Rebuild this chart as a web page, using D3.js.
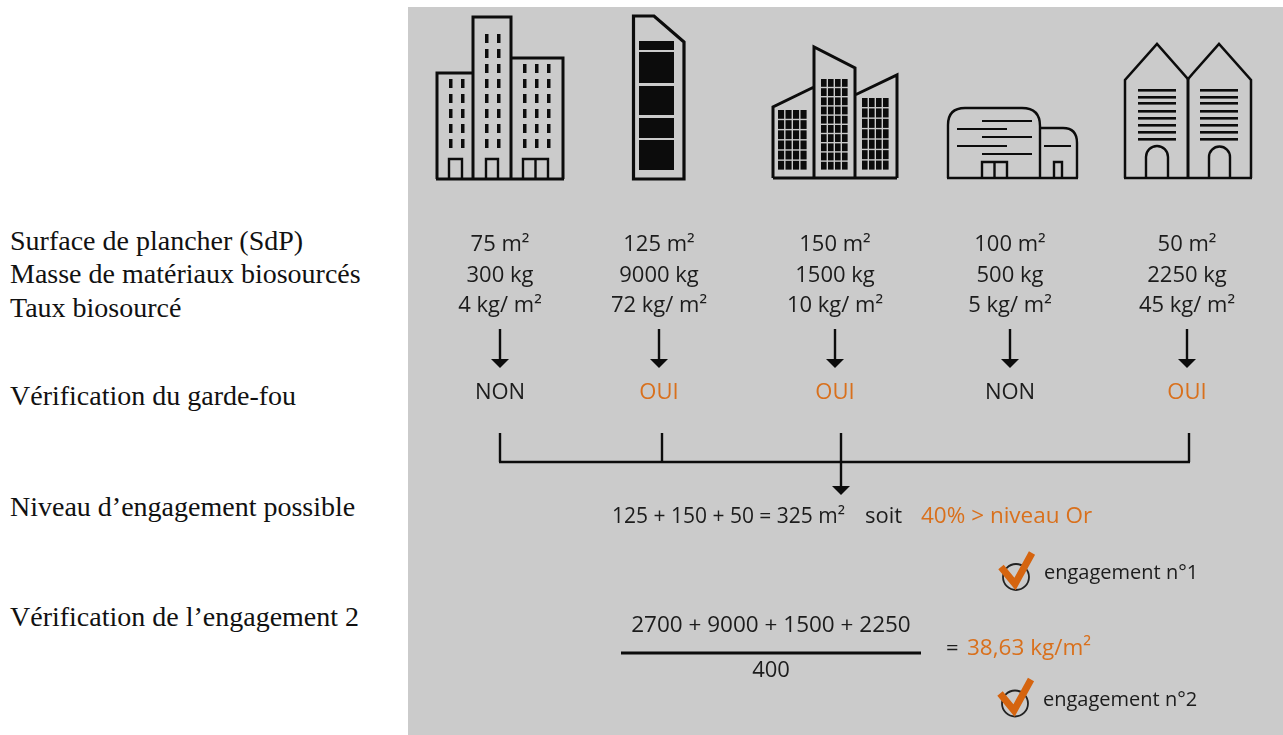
<!DOCTYPE html>
<html>
<head>
<meta charset="utf-8">
<script src="https://cdn.jsdelivr.net/npm/d3@7"></script>
<style>
  html, body { margin: 0; padding: 0; background: #fff; }
  svg { display: block; }
  .serif { font-family: "Liberation Serif", serif; font-size: 28px; fill: #111; }
  .sans { font-family: "Open Sans", sans-serif; font-size: 22px; fill: #1c1c1c; }
  .panel { filter: blur(0.45px); }
</style>
</head>
<body>
<div id="viz"></div>
<script>
const width = 1283;
const height = 735;
const black = '#0c0c0c';
const orange = '#d9701c';
const checkOrange = '#d5640f';

// Values
const buildings = ['A', 'B', 'C', 'D', 'E'];
const surfaces = [75, 125, 150, 100, 50];
const masses = [300, 9000, 1500, 500, 2250];
const taux = [4, 72, 10, 5, 45];
const gardeFou = ['NON', 'OUI', 'OUI', 'NON', 'OUI'];
const rowLabels = [
  'Surface de plancher (SdP)',
  'Masse de matériaux biosourcés',
  'Taux biosourcé',
  'Vérification du garde-fou',
  'Niveau d’engagement possible',
  'Vérification de l’engagement 2'
];
const engagements = ['engagement n°1', 'engagement n°2'];

// Column centres and row baselines
const xCol = d3.scaleOrdinal().domain(buildings).range([500, 659, 835, 1010, 1187]);
const xTick = d3.scaleOrdinal().domain(buildings).range([500, 662, 841, 1010, 1189]);
const yLabel = d3.scaleOrdinal().domain(rowLabels).range([250, 283, 317, 405, 516, 626]);

const svg = d3.select('#viz')
  .append('svg')
    .attr('viewBox', [0, 0, width, height])
    .attr('width', width)
    .attr('height', height);

svg.append('rect')
  .attr('x', 408).attr('y', 7)
  .attr('width', width - 408).attr('height', height - 7)
  .attr('fill', '#cbcbcb');

// Row labels on the left
svg.selectAll('.row-label')
  .data(rowLabels)
  .join('text')
    .attr('class', 'serif row-label')
    .attr('x', 10)
    .attr('y', d => yLabel(d))
    .text(d => d);

const panel = svg.append('g').attr('class', 'panel');

// Helpers for the building icons
const icons = panel.append('g')
  .attr('fill', 'none')
  .attr('stroke', black)
  .attr('stroke-width', 2.5)
  .attr('stroke-linejoin', 'miter');

const outline = (d, sw) => icons.append('path').attr('d', d).attr('stroke-width', sw || 2.5);

const blocks = (xs, ys, w, h) => {
  xs.forEach(x => ys.forEach(y => {
    icons.append('rect')
      .attr('x', x).attr('y', y).attr('width', w).attr('height', h)
      .attr('fill', black).attr('stroke', 'none');
  }));
};

const grid = (x0, x1, y0, y1, cols, rows) => {
  const w = (x1 - x0) / cols;
  const h = (y1 - y0) / rows;
  blocks(d3.range(cols).map(i => x0 + i * w), d3.range(rows).map(i => y0 + i * h), w - 1.4, h - 1.4);
};

// Building 1
outline('M437,179V73H473M473,179V17H511V179M511,58H563V179M436,179H564', 3);
blocks([449, 461], d3.range(79, 145, 15), 3.5, 9);
blocks([485, 497], d3.range(34, 145, 15), 3.5, 9);
blocks([523, 535, 547], d3.range(64, 145, 15), 3.5, 9);
outline('M449,179V159H462V179M486,179V159H498V179M523,179V159H548V179M535.5,159V179', 2.4);

// Building 2
outline('M633.5,16H654L684,42V179H633.5Z', 3.2);
[[41, 9], [52, 31], [86, 29], [118, 20], [140, 30]].forEach(b => blocks([639], [b[0]], 35, b[1]));

// Building 3
outline('M773,178V107L814,87M814,178V47L855,68V178M855,95L897,75V178M773,178H897', 3);
grid(778, 808, 110, 171, 4, 6);
grid(821, 849, 79, 171, 4, 10);
grid(862, 890, 98, 171, 4, 7);

// Building 4
outline('M948,178V125Q948,108 965,108H1022Q1040,108 1040,126V178M1040,128H1063Q1077,128 1077,143V178M947,178H1078', 2.4);
outline('M982,121H1032M957,129H1007M982,137H1032M957,146H1007M982,154H1032M1044,146H1071', 2.2);
outline('M982,178V162H1007V178M994.5,162V178M1054,178V162H1062V178', 2.4);

// Building 5
outline('M1125,178V80L1157,44L1188,79L1219,44L1251,80V178M1124,178H1252', 2.5);
outline('M1188,79V178', 3);
[90, 97, 103, 111, 118, 125, 132, 139].forEach(y => {
  blocks([1138, 1200], [y - 1], 38, 2.6);
});
outline('M1146,178V157A11,11 0 0 1 1168,157V178M1209,178V157A10.5,10.5 0 0 1 1230,157V178', 2.4);

// Columns of values
const columns = panel.selectAll('.col')
  .data(buildings.map((b, i) => ({b, i})))
  .join('g')
    .attr('class', 'col');

const valueText = (fn, y) => columns.append('text')
  .attr('class', 'sans')
  .attr('x', d => xCol(d.b))
  .attr('y', y)
  .attr('text-anchor', 'middle')
  .text(d => fn(d.i));

valueText(i => `${surfaces[i]} m²`, 251);
valueText(i => `${masses[i]} kg`, 282);
valueText(i => `${taux[i]} kg/ m²`, 312);
valueText(i => gardeFou[i], 399)
  .style('fill', d => gardeFou[d.i] === 'OUI' ? orange : '#1c1c1c');

// Arrows
const arrow = (x, y0, y1) => {
  panel.append('line')
    .attr('x1', x).attr('x2', x).attr('y1', y0).attr('y2', y1 - 5)
    .attr('stroke', black).attr('stroke-width', 2.4);
  panel.append('path')
    .attr('d', `M${x - 9},${y1 - 9}H${x + 9}L${x},${y1}Z`)
    .attr('fill', black);
};
buildings.forEach(b => arrow(xCol(b), 329, 368));

// Bracket collecting the OUI columns
const kept = buildings.filter((b, i) => gardeFou[i] === 'OUI');
const bracketTicks = [buildings[0]].concat(kept);
panel.append('line')
  .attr('x1', xTick(buildings[0]) - 1).attr('x2', xTick('E') + 1)
  .attr('y1', 462).attr('y2', 462)
  .attr('stroke', black).attr('stroke-width', 2.6);
panel.selectAll('.bracket')
  .data(bracketTicks)
  .join('line')
    .attr('class', 'bracket')
    .attr('x1', d => xTick(d)).attr('x2', d => xTick(d))
    .attr('y1', 433).attr('y2', 462)
    .attr('stroke', black).attr('stroke-width', 2.4);
arrow(xTick('C'), 462, 495);

// Sum of the kept surfaces
const keptSurfaces = surfaces.filter((s, i) => gardeFou[i] === 'OUI');
const text = (x, y, str, size, color, anchor) => panel.append('text')
  .attr('class', 'sans')
  .attr('x', x).attr('y', y)
  .attr('text-anchor', anchor || 'start')
  .style('font-size', size + 'px')
  .style('fill', color || '#1c1c1c')
  .text(str);

text(612, 523, `${keptSurfaces.join(' + ')} = ${d3.sum(keptSurfaces)} m²`, 21);
text(865, 523, 'soit', 22);
text(921, 523, '40% > niveau Or', 22.5, orange);

// Engagement 2 fraction
const numerator = [2700, 9000, 1500, 2250];
const denominator = 400;
text(771, 632, numerator.join(' + '), 22.5, null, 'middle');
panel.append('line')
  .attr('x1', 621).attr('x2', 921).attr('y1', 653).attr('y2', 653)
  .attr('stroke', black).attr('stroke-width', 3);
text(771, 677, denominator, 22, null, 'middle');
text(946, 655, '=', 22);
text(967, 655, '38,63 kg/m²', 22.5, orange);

// Check marks
engagements.forEach((e, i) => {
  const g = panel.append('g').attr('transform', `translate(${-i}, ${i * 126.5})`);
  g.append('circle')
    .attr('cx', 1016).attr('cy', 577).attr('r', 13)
    .attr('fill', 'none').attr('stroke', '#222').attr('stroke-width', 1.8);
  g.append('path')
    .attr('d', 'M1001,567L1015,584L1032,553')
    .attr('fill', 'none').attr('stroke', checkOrange).attr('stroke-width', 7);
  g.append('text')
    .attr('class', 'sans')
    .style('font-size', '20px')
    .attr('x', 1044).attr('y', 579)
    .text(e);
});
</script>
</body>
</html>
